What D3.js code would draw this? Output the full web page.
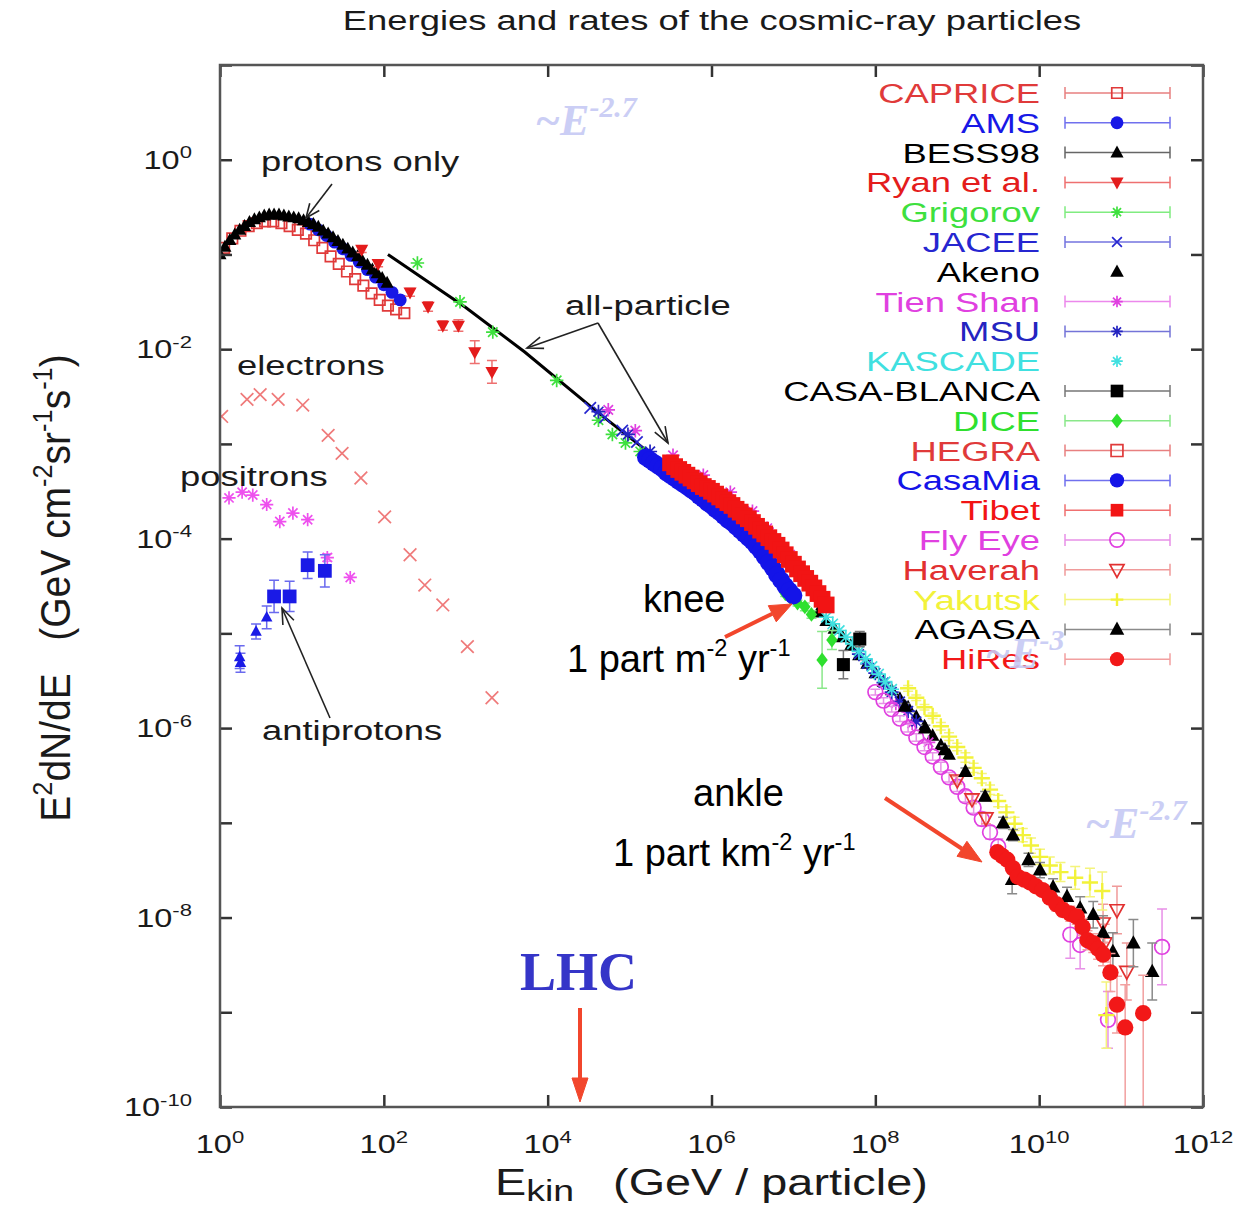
<!DOCTYPE html>
<html>
<head>
<meta charset="utf-8">
<script src="https://cdn.jsdelivr.net/npm/d3@7"></script>
<style>
  body { margin: 0; background: #fff; }
  svg text { font-family: "Liberation Sans", Arial, Helvetica, sans-serif; white-space: pre; }
</style>
</head>
<body>
<svg id="chart" width="1259" height="1209"></svg>
<script>
// values, in decades:
// [log10(E / GeV), log10(E^2 dN/dE), error up (dex), error down (dex)]
var experiments = ['CAPRICE', 'AMS', 'BESS98', 'Ryan et al.', 'Grigorov', 'JACEE', 'Akeno', 'Tien Shan', 'MSU', 'KASCADE',
  'CASA-BLANCA', 'DICE', 'HEGRA', 'CasaMia', 'Tibet', 'Fly Eye', 'Haverah', 'Yakutsk', 'AGASA', 'HiRes']

var caprice = [[0.05,-0.93],[0.15,-0.83],[0.25,-0.75],[0.35,-0.70],[0.45,-0.67],[0.55,-0.65],[0.65,-0.65],[0.75,-0.67],
  [0.85,-0.70],[0.95,-0.74],[1.05,-0.78],[1.15,-0.85],[1.25,-0.93],[1.35,-1.02],[1.45,-1.10],[1.55,-1.18],[1.65,-1.26],
  [1.75,-1.33],[1.85,-1.41],[1.95,-1.48],[2.05,-1.54],[2.15,-1.58],[2.25,-1.62]]
var ams = [[1.10,-0.68],[1.20,-0.74],[1.30,-0.80],[1.40,-0.87],[1.50,-0.94],[1.60,-1.01],[1.70,-1.08],[1.80,-1.16],
  [1.90,-1.24],[2.00,-1.32],[2.10,-1.40],[2.20,-1.48]]
var bess98 = [[0.00,-1.00],[0.06,-0.92],[0.12,-0.85],[0.18,-0.79],[0.24,-0.74],[0.30,-0.70],[0.36,-0.66],[0.42,-0.63],
  [0.48,-0.61],[0.54,-0.59],[0.60,-0.58],[0.66,-0.58],[0.72,-0.58],[0.78,-0.59],[0.84,-0.60],[0.90,-0.61],[0.96,-0.62],
  [1.02,-0.64],[1.08,-0.66],[1.14,-0.68],[1.20,-0.71],[1.26,-0.75],[1.32,-0.78],[1.38,-0.82],[1.44,-0.86],[1.50,-0.90],
  [1.56,-0.94],[1.62,-0.98],[1.68,-1.02],[1.74,-1.07],[1.80,-1.11],[1.86,-1.16],[1.92,-1.20],[1.98,-1.25],[2.04,-1.30]]
var ryan = [[1.73,-0.95,0.03],[1.93,-1.10,0.03],[2.32,-1.40,0.04],[2.54,-1.55,0.05],[2.72,-1.75,0.05],[2.91,-1.75,0.06],
  [3.11,-2.03,0.12],[3.32,-2.24,0.12]]
var grigorov = [[2.41,-1.09],[2.93,-1.50],[3.33,-1.82],[4.11,-2.33],[4.62,-2.75],[4.79,-2.90],[4.95,-2.99],[5.13,-3.08]]
var jacee = [[4.52,-2.62],[4.70,-2.72],[4.91,-2.86],[5.09,-2.98]]
var akeno = [[7.30,-4.78],[7.40,-4.87],[7.50,-4.95],[7.60,-5.04],[7.70,-5.13],[7.80,-5.23],[7.90,-5.32],[8.00,-5.42],
  [8.10,-5.51],[8.20,-5.60],[8.30,-5.69],[8.40,-5.78],[8.50,-5.88],[8.60,-5.98],[8.70,-6.08],[8.80,-6.18],[8.90,-6.28]]
var tienShan = [[4.74,-2.64],[5.07,-2.86],[5.53,-3.12],[5.90,-3.33],[6.23,-3.51],[6.50,-3.71],[6.68,-3.89],[6.96,-4.17],
  [8.25,-5.74],[8.45,-5.95],[8.65,-6.15]]
var msu = [[4.62,-2.66],[4.98,-2.90],[5.25,-3.08],[7.80,-5.22],[7.90,-5.32],[8.00,-5.42],[8.10,-5.52],[8.20,-5.62],
  [8.30,-5.72],[8.40,-5.82],[8.50,-5.93]]
var kascade = [[7.40,-4.83],[7.48,-4.90],[7.56,-4.97],[7.64,-5.04],[7.72,-5.11],[7.80,-5.19],[7.88,-5.27],[7.96,-5.35],
  [8.04,-5.43],[8.12,-5.51],[8.20,-5.59]]
var casaBlanca = [[7.81,-5.06,0.08],[7.61,-5.33,0.15]]
var dice = [[6.90,-4.58,0.03],[6.96,-4.62,0.03],[7.05,-4.68,0.03],[7.14,-4.72,0.04],[7.22,-4.80,0.04],[7.47,-5.07,0.1],
  [7.35,-5.28,0.3]]
var hegra = [[5.60,-3.28],[5.80,-3.40],[6.00,-3.52],[6.20,-3.64],[6.40,-3.78]]
var casaMia = [[5.20,-3.14],[5.25,-3.17],[5.30,-3.20],[5.35,-3.23],[5.40,-3.26],[5.45,-3.30],[5.50,-3.33],[5.55,-3.36],
  [5.60,-3.39],[5.65,-3.42],[5.70,-3.45],[5.75,-3.48],[5.80,-3.51],[5.85,-3.55],[5.90,-3.58],[5.95,-3.62],[6.00,-3.65],
  [6.05,-3.69],[6.10,-3.72],[6.15,-3.76],[6.20,-3.80],[6.25,-3.83],[6.30,-3.87],[6.35,-3.91],[6.40,-3.95],[6.45,-3.99],
  [6.50,-4.03],[6.55,-4.08],[6.60,-4.13],[6.65,-4.19],[6.70,-4.25],[6.75,-4.31],[6.80,-4.38],[6.85,-4.44],[6.90,-4.50],
  [6.95,-4.55],[7.00,-4.60]]
var tibet = [[5.50,-3.20],[5.55,-3.24],[5.60,-3.27],[5.65,-3.30],[5.70,-3.33],[5.75,-3.36],[5.80,-3.39],[5.85,-3.42],
  [5.90,-3.45],[5.95,-3.47],[6.00,-3.50],[6.05,-3.53],[6.10,-3.56],[6.15,-3.59],[6.20,-3.62],[6.25,-3.65],[6.30,-3.69],
  [6.35,-3.72],[6.40,-3.76],[6.45,-3.79],[6.50,-3.83],[6.55,-3.87],[6.60,-3.91],[6.65,-3.95],[6.70,-3.99],[6.75,-4.03],
  [6.80,-4.07],[6.85,-4.12],[6.90,-4.17],[6.95,-4.22],[7.00,-4.27],[7.05,-4.32],[7.10,-4.37],[7.15,-4.42],[7.20,-4.47],
  [7.25,-4.52],[7.30,-4.58],[7.35,-4.64],[7.40,-4.70]]
var flyEye = [[8.00,-5.62,0.03],[8.10,-5.71,0.03],[8.20,-5.80,0.03],[8.30,-5.90,0.03],[8.40,-6.00,0.04],[8.50,-6.10,0.04],
  [8.60,-6.20,0.04],[8.70,-6.30,0.04],[8.80,-6.41,0.05],[8.90,-6.52,0.05],[9.00,-6.62,0.05],[9.10,-6.72,0.06],
  [9.20,-6.84,0.06],[9.30,-6.96,0.07],[9.40,-7.10,0.07],[9.50,-7.25,0.08],[10.38,-8.18,0.25],[10.50,-8.29,0.25],
  [10.84,-9.08,0.3],[11.50,-8.31,0.4]]
var haverah = [[9.00,-6.55,0.04],[9.18,-6.75,0.05],[9.35,-6.95,0.06],[10.78,-8.06,0.2],[10.95,-7.92,0.25],
  [11.07,-8.57,0.3],[10.80,-8.27,0.2]]
var yakutsk = [[8.40,-5.58,0.03],[8.50,-5.68,0.03],[8.60,-5.78,0.03],[8.70,-5.87,0.03],[8.80,-5.98,0.04],[8.90,-6.09,0.04],
  [9.00,-6.20,0.04],[9.10,-6.31,0.05],[9.20,-6.42,0.05],[9.30,-6.53,0.05],[9.40,-6.65,0.05],[9.50,-6.77,0.06],
  [9.60,-6.89,0.06],[9.70,-7.01,0.07],[9.80,-7.13,0.07],[9.90,-7.24,0.08],[10.01,-7.36,0.08],[10.13,-7.45,0.09],
  [10.26,-7.52,0.1],[10.44,-7.58,0.12],[10.62,-7.63,0.15],[10.77,-7.72,0.2],[10.82,-9.03,0.35]]
var agasa = [[8.36,-5.77,0.03],[8.61,-6.00,0.03],[8.85,-6.23,0.04],[9.10,-6.46,0.04],[9.34,-6.72,0.05],[9.56,-7.00,0.06],
  [9.68,-7.13,0.06],[9.67,-7.60,0.15],[9.87,-7.39,0.07],[10.01,-7.50,0.08],[10.17,-7.68,0.09],[10.34,-7.78,0.1],
  [10.50,-7.90,0.12],[10.66,-7.97,0.14],[10.78,-8.16,0.18],[10.90,-8.36,0.2],[11.15,-8.27,0.25],[11.38,-8.57,0.3]]
var hiRes = [[9.49,-7.31,0.05],[9.55,-7.35,0.05],[9.61,-7.39,0.05],[9.68,-7.48,0.05],[9.74,-7.57,0.05],[9.82,-7.60,0.05],
  [9.89,-7.63,0.05],[9.96,-7.67,0.06],[10.04,-7.71,0.06],[10.13,-7.79,0.06],[10.21,-7.86,0.07],[10.29,-7.92,0.07],
  [10.38,-7.96,0.08],[10.46,-7.99,0.08],[10.53,-8.10,0.09],[10.59,-8.24,0.1],[10.66,-8.27,0.1],[10.72,-8.33,0.11],
  [10.78,-8.39,0.12],[10.87,-8.58,0.2],[10.95,-8.92,0.3],[11.05,-9.16,0.45,2.0],[11.27,-9.01,0.4,2.0]]

var electrons = [[0.02,-2.71],[0.33,-2.53],[0.49,-2.48],[0.71,-2.53],[1.01,-2.59],[1.32,-2.91],[1.49,-3.10],[1.72,-3.36],
  [2.01,-3.77],[2.32,-4.17],[2.50,-4.49],[2.72,-4.70],[3.02,-5.14],[3.32,-5.68]]
var positrons = [[0.11,-3.57],[0.27,-3.51],[0.40,-3.54],[0.57,-3.64],[0.73,-3.82],[0.89,-3.73],[1.07,-3.80],
  [1.31,-4.20,0.04],[1.59,-4.41]]
var pbarTriangles = [[0.24,-5.25,0.12],[0.25,-5.31,0.1],[0.44,-4.98,0.08],[0.57,-4.83,0.12]]
var pbarSquares = [[0.66,-4.61,0.17],[0.85,-4.61,0.16],[1.07,-4.28,0.14],[1.28,-4.34,0.17]]
var allParticle = [[2.05,-1.00],[3.00,-1.56],[3.72,-2.03],[4.60,-2.66],[5.25,-3.10]]

var xTickPowers = [0, 2, 4, 6, 8, 10, 12]
var yTickPowers = [-10, -9, -8, -7, -6, -5, -4, -3, -2, -1, 0, 1]
var yLabelPowers = [0, -2, -4, -6, -8, -10]

var dataByName = {
  'CAPRICE': caprice, 'AMS': ams, 'BESS98': bess98, 'Ryan et al.': ryan, 'Grigorov': grigorov, 'JACEE': jacee,
  'Akeno': akeno, 'Tien Shan': tienShan, 'MSU': msu, 'KASCADE': kascade, 'CASA-BLANCA': casaBlanca, 'DICE': dice,
  'HEGRA': hegra, 'CasaMia': casaMia, 'Tibet': tibet, 'Fly Eye': flyEye, 'Haverah': haverah, 'Yakutsk': yakutsk,
  'AGASA': agasa, 'HiRes': hiRes
}

var looks = {
  'CAPRICE':     {color: '#e03a3a', err: '#e88080', shape: 'square', open: true, size: 110},
  'AMS':         {color: '#1818e6', err: '#7070ee', shape: 'circle', size: 130},
  'BESS98':      {color: '#000000', err: '#666', shape: 'triangle', size: 130},
  'Ryan et al.': {color: '#e41c1c', err: '#ee7070', shape: 'triangleDown', size: 130},
  'Grigorov':    {color: '#3ee03e', err: '#80ec80', shape: 'asterisk', size: 220},
  'JACEE':       {color: '#2626d0', err: '#7474e0', shape: 'cross', size: 220},
  'Akeno':       {color: '#000000', shape: 'triangle', size: 140, bar: false},
  'Tien Shan':   {color: '#e040e0', err: '#ec88ec', shape: 'asterisk', size: 220},
  'MSU':         {color: '#2424c0', err: '#7474d8', shape: 'asterisk', size: 240},
  'KASCADE':     {color: '#40e0e0', shape: 'asterisk', size: 260, bar: false},
  'CASA-BLANCA': {color: '#000000', err: '#777', shape: 'square', size: 170},
  'DICE':        {color: '#2ee02e', err: '#8ae88a', shape: 'diamond', size: 130},
  'HEGRA':       {color: '#e03a3a', err: '#e88080', shape: 'square', open: true, size: 140},
  'CasaMia':     {color: '#1414e8', err: '#7070ee', shape: 'circle', size: 250},
  'Tibet':       {color: '#f21414', err: '#f07070', shape: 'square', size: 280},
  'Fly Eye':     {color: '#e040e0', err: '#e890e8', shape: 'circle', open: true, size: 170},
  'Haverah':     {color: '#e23030', err: '#f09a9a', shape: 'triangleDown', open: true, size: 150},
  'Yakutsk':     {color: '#f2f23a', err: '#f4f47c', shape: 'plus', size: 260},
  'AGASA':       {color: '#000000', err: '#8a8a8a', shape: 'triangle', size: 160},
  'HiRes':       {color: '#f21818', err: '#f2a0a0', shape: 'circle', size: 210}
}

var W = 1259, H = 1209
var margin = {left: 220, right: 56, top: 65, bottom: 102}
var plotW = W - margin.left - margin.right
var plotH = H - margin.top - margin.bottom
var SX = 1.3 // the original figure is stretched sideways

var xScale = d3.scaleLog().domain([1, 1e12]).range([0, plotW])
var yScale = d3.scaleLog().domain([1e-10, 10]).range([plotH, 0])
var X = function(d) { return xScale(Math.pow(10, d[0])) }
var Y = function(d) { return yScale(Math.pow(10, d[1])) }

var shapes = {
  circle: {draw: function(c, s) { var r = Math.sqrt(s / Math.PI); c.moveTo(r, 0); c.arc(0, 0, r, 0, 2 * Math.PI) }},
  square: {draw: function(c, s) { var h = Math.sqrt(s) / 2; c.rect(-h, -h, 2 * h, 2 * h) }},
  triangle: {draw: function(c, s) {
    var h = Math.sqrt(s) / 2
    c.moveTo(0, -1.25 * h); c.lineTo(1.15 * h, 0.85 * h); c.lineTo(-1.15 * h, 0.85 * h); c.closePath()
  }},
  triangleDown: {draw: function(c, s) {
    var h = Math.sqrt(s) / 2
    c.moveTo(0, 1.25 * h); c.lineTo(1.15 * h, -0.85 * h); c.lineTo(-1.15 * h, -0.85 * h); c.closePath()
  }},
  diamond: {draw: function(c, s) {
    var h = Math.sqrt(s) / 2
    c.moveTo(0, -1.3 * h); c.lineTo(h, 0); c.lineTo(0, 1.3 * h); c.lineTo(-h, 0); c.closePath()
  }},
  plus: {draw: function(c, s) { var h = Math.sqrt(s) / 2; c.moveTo(-h, 0); c.lineTo(h, 0); c.moveTo(0, -h); c.lineTo(0, h) }},
  cross: {draw: function(c, s) {
    var h = Math.sqrt(s) / 2.6
    c.moveTo(-h, -h); c.lineTo(h, h); c.moveTo(-h, h); c.lineTo(h, -h)
  }},
  asterisk: {draw: function(c, s) {
    var h = Math.sqrt(s) / 2.2, k = h * 0.7
    c.moveTo(-h, 0); c.lineTo(h, 0); c.moveTo(0, -h); c.lineTo(0, h)
    c.moveTo(-k, -k); c.lineTo(k, k); c.moveTo(-k, k); c.lineTo(k, -k)
  }}
}
var strokeOnly = {plus: true, cross: true, asterisk: true}

function styleMarker(sel, st) {
  var lineShape = strokeOnly[st.shape] || st.open
  sel.attr('fill', lineShape ? 'none' : st.color)
    .attr('stroke', lineShape ? st.color : 'none')
    .attr('stroke-width', lineShape ? (st.shape === 'plus' ? 2.4 : 1.7) : 0)
}

var svg = d3.select('#chart')
svg.append('defs').append('clipPath').attr('id', 'plotClip')
  .append('rect').attr('width', plotW).attr('height', plotH)

var g = svg.append('g').attr('transform', 'translate(' + margin.left + ',' + margin.top + ')')
var plot = g.append('g').attr('clip-path', 'url(#plotClip)')

function drawSeries(data, st) {
  var grp = plot.append('g')
  var withErr = data.filter(function(d) { return d.length > 2 })
  grp.selectAll('path.eb').data(withErr).join('path')
    .attr('class', 'eb')
    .attr('d', function(d) {
      var x = X(d), hi = Y([d[0], d[1] + d[2]]), lo = Y([d[0], d[1] - (d.length > 3 ? d[3] : d[2])])
      return 'M' + (x - 5) + ',' + hi + 'H' + (x + 5) + 'M' + x + ',' + hi + 'V' + lo + 'M' + (x - 5) + ',' + lo + 'H' + (x + 5)
    })
    .attr('fill', 'none')
    .attr('stroke', st.err)
    .attr('stroke-width', 1.5)
  grp.selectAll('path.pt').data(data).join('path')
    .attr('class', 'pt')
    .attr('transform', function(d) { return 'translate(' + X(d) + ',' + Y(d) + ')' })
    .attr('d', d3.symbol().type(shapes[st.shape]).size(st.size))
    .call(styleMarker, st)
}

// particle species at low energy
drawSeries(electrons, {color: '#ef7a7a', shape: 'cross', size: 270})
drawSeries(positrons, {color: '#ee50ee', err: '#ee90ee', shape: 'asterisk', size: 210})
drawSeries(pbarTriangles, {color: '#1a1ae6', err: '#6a6aee', shape: 'triangle', size: 100})
drawSeries(pbarSquares, {color: '#1a1ae6', err: '#6a6aee', shape: 'square', size: 190})

// all-particle fit line
plot.append('path')
  .datum(allParticle)
  .attr('d', d3.line().x(X).y(Y))
  .attr('fill', 'none')
  .attr('stroke', '#000')
  .attr('stroke-width', 3)

experiments.forEach(function(name) { drawSeries(dataByName[name], looks[name]) })

// axes: inward ticks on all four sides
var yTicks = yTickPowers.map(function(p) { return Math.pow(10, p) })
var xTicks = xTickPowers.map(function(p) { return Math.pow(10, p) })
var axisStyle = function(sel) {
  sel.select('.domain').remove()
  sel.selectAll('line').attr('stroke', '#333').attr('stroke-width', 2.5)
}
g.append('g').call(d3.axisLeft(yScale).tickValues(yTicks).tickSize(-12).tickFormat('')).call(axisStyle)
g.append('g').attr('transform', 'translate(' + plotW + ',0)')
  .call(d3.axisRight(yScale).tickValues(yTicks).tickSize(-12).tickFormat('')).call(axisStyle)
g.append('g').attr('transform', 'translate(0,' + plotH + ')')
  .call(d3.axisBottom(xScale).tickValues(xTicks).tickSize(-12).tickFormat('')).call(axisStyle)
g.append('g').call(d3.axisTop(xScale).tickValues(xTicks).tickSize(-12).tickFormat('')).call(axisStyle)
g.append('rect').attr('width', plotW).attr('height', plotH)
  .attr('fill', 'none').attr('stroke', '#555').attr('stroke-width', 2.5)

// text helpers
function richText(sel, parts, size, small) {
  var shift = 0
  parts.forEach(function(p) {
    var target = p[1] === 'sup' ? -0.42 * size : p[1] === 'sub' ? 0.17 * size : 0
    sel.append('tspan')
      .attr('dy', target - shift)
      .style('font-size', (p[1] ? (small || 0.68) * size : size) + 'px')
      .text(p[0])
    shift = target
  })
  return sel
}
function stretched(parent, x, y, anchor, size, fill) {
  return parent.append('text')
    .attr('transform', 'translate(' + x + ',' + y + ') scale(' + SX + ',1)')
    .attr('text-anchor', anchor)
    .style('font-size', size + 'px')
    .attr('fill', fill || '#1a1a1a')
}

// tick labels
yLabelPowers.forEach(function(p) {
  var t = stretched(svg, margin.left - 28, margin.top + yScale(Math.pow(10, p)) + 9, 'end', 25)
  richText(t, [['10'], [String(p), 'sup']], 25)
})
xTickPowers.forEach(function(p) {
  var t = stretched(svg, margin.left + xScale(Math.pow(10, p)), 1153, 'middle', 25)
  richText(t, [['10'], [String(p), 'sup']], 25)
})

// title and axis titles
stretched(svg, 712, 30, 'middle', 28).text('Energies and rates of the cosmic-ray particles')
richText(stretched(svg, 495, 1195, 'start', 36), [['E'], ['kin', 'sub'], ['   (GeV / particle)']], 36, 0.8)
var yTitle = svg.append('text')
  .attr('transform', 'translate(70,588) rotate(-90) scale(1,1.1)')
  .attr('text-anchor', 'middle')
  .style('font-size', '39px')
  .attr('fill', '#1a1a1a')
richText(yTitle, [['E'], ['2', 'sup'], ['dN/dE   (GeV cm'], ['-2', 'sup'], ['sr'], ['-1', 'sup'], ['s'], ['-1', 'sup'], [')']], 39, 0.65)

// legend
var legendTop = 93, legendStep = 29.8
experiments.forEach(function(name, i) {
  var st = looks[name], y = legendTop + i * legendStep
  stretched(svg, 1040, y + 10, 'end', 28, st.color).text(name)
  if (st.bar !== false) {
    svg.append('path')
      .attr('d', 'M1065,' + (y - 6) + 'V' + (y + 6) + 'M1065,' + y + 'H1170M1170,' + (y - 6) + 'V' + (y + 6))
      .attr('fill', 'none').attr('stroke', st.err).attr('stroke-width', 1.5)
  }
  svg.append('path')
    .attr('transform', 'translate(1117,' + y + ')')
    .attr('d', d3.symbol().type(shapes[st.shape]).size(Math.min(st.size, 160)))
    .call(styleMarker, st)
})

// arrows
function arrow(a, b, color, width, head, headW, filled) {
  var ang = Math.atan2(b[1] - a[1], b[0] - a[0])
  var bx = b[0] - head * Math.cos(ang), by = b[1] - head * Math.sin(ang)
  var left = [bx + headW * Math.sin(ang), by - headW * Math.cos(ang)]
  var right = [bx - headW * Math.sin(ang), by + headW * Math.cos(ang)]
  var end = filled ? [bx, by] : b
  svg.append('line').attr('x1', a[0]).attr('y1', a[1]).attr('x2', end[0]).attr('y2', end[1])
    .attr('stroke', color).attr('stroke-width', width)
  svg.append('path')
    .attr('d', 'M' + left + 'L' + b + 'L' + right + (filled ? 'Z' : ''))
    .attr('fill', filled ? color : 'none')
    .attr('stroke', color).attr('stroke-width', filled ? 1 : width)
}
arrow([332, 184], [306, 218], '#222', 1.6, 14, 6, false)
arrow([598, 323], [527, 348], '#222', 1.6, 16, 6, false)
arrow([598, 323], [668, 443], '#222', 1.6, 16, 6, false)
arrow([330, 718], [282, 608], '#222', 1.6, 16, 6, false)
arrow([725, 637], [792, 604], '#f2462c', 4, 22, 9, true)
arrow([885, 798], [982, 862], '#f2462c', 4, 24, 9, true)
arrow([580, 1008], [580, 1102], '#f2462c', 4, 24, 8, true)

// annotations from the original figure
stretched(svg, 261, 171, 'start', 28).text('protons only')
stretched(svg, 565, 315, 'start', 28).text('all-particle')
stretched(svg, 237, 375, 'start', 28).text('electrons')
stretched(svg, 180, 486, 'start', 28).text('positrons')
stretched(svg, 262, 740, 'start', 28).text('antiprotons')

// added labels
function plainText(x, y, size) {
  return svg.append('text').attr('x', x).attr('y', y).style('font-size', size + 'px').attr('fill', '#000')
}
plainText(643, 612, 38).text('knee')
richText(plainText(567, 672, 38), [['1 part m'], ['-2', 'sup'], [' yr'], ['-1', 'sup']], 38, 0.62)
plainText(693, 806, 38).text('ankle')
richText(plainText(613, 866, 38), [['1 part km'], ['-2', 'sup'], [' yr'], ['-1', 'sup']], 38, 0.62)
svg.append('text').attr('x', 520).attr('y', 990)
  .style('font-family', '"Liberation Serif", "Times New Roman", serif')
  .style('font-size', '54px').style('font-weight', 'bold')
  .attr('fill', '#3535c8').text('LHC')

// power-law slope labels
function slopeLabel(x, y, exp) {
  var t = svg.append('text').attr('x', x).attr('y', y)
    .style('font-family', '"Liberation Serif", "Times New Roman", serif')
    .style('font-style', 'italic').style('font-weight', 'bold')
    .style('font-size', '44px')
    .attr('fill', '#c6c9f4').attr('opacity', 0.9)
  richText(t, [['~E'], [exp, 'sup']], 44, 0.68)
}
slopeLabel(535, 135, '-2.7')
slopeLabel(985, 668, '-3')
slopeLabel(1085, 838, '-2.7')
</script>
</body>
</html>
